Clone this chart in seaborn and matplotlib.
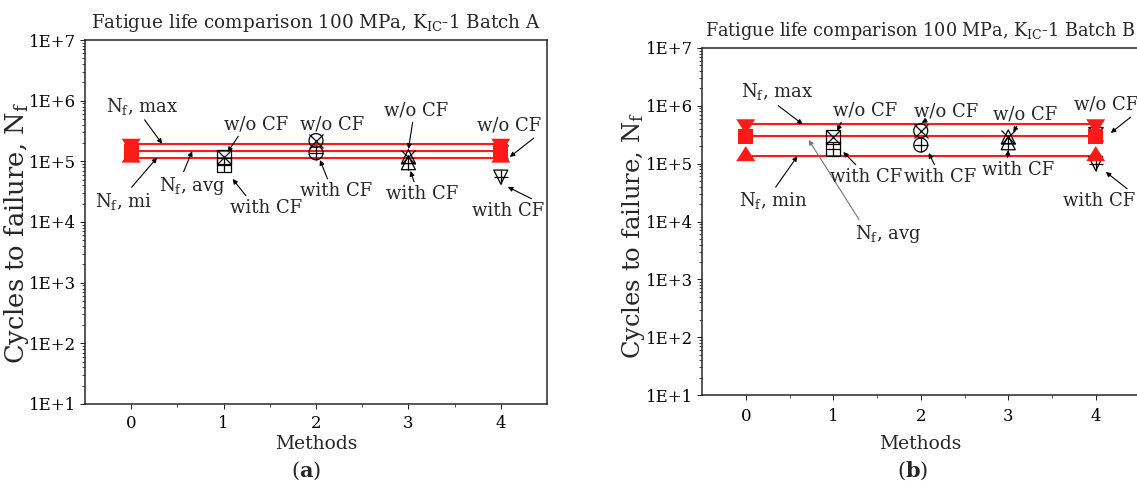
import numpy as np
import pandas as pd
import matplotlib
matplotlib.use("Agg")
import matplotlib.pyplot as plt
from matplotlib.markers import MarkerStyle
from matplotlib.transforms import offset_copy
from matplotlib.ticker import FixedLocator, NullFormatter, LogLocator
import seaborn as sns

# ---- data -------------------------------------------------------------
methods = [0, 1, 2, 3, 4]
method_labels = ["0", "1", "2", "3", "4"]
line_methods = [0, 4]            # N_f bands run between method 0 and method 4
cf_methods = [1, 2, 3, 4]        # methods evaluated with / without CF

ytick_values = [1e1, 1e2, 1e3, 1e4, 1e5, 1e6, 1e7]
ytick_labels = ["1E+1", "1E+2", "1E+3", "1E+4", "1E+5", "1E+6", "1E+7"]

# Batch A
nf_max_a = 1.95e5
nf_avg_a = 1.47e5
nf_min_a = 1.15e5
wo_cf_a = [1.2e5, 2.2e5, 1.2e5, 1.4e5]
with_cf_a = [8.8e4, 1.38e5, 9.5e4, 5.5e4]

# Batch B
nf_max_b = 4.8e5
nf_avg_b = 3.0e5
nf_min_b = 1.35e5
wo_cf_b = [2.9e5, 3.7e5, 2.9e5, 3.2e5]
with_cf_b = [1.8e5, 2.1e5, 2.3e5, 1.0e5]

# ---- style ------------------------------------------------------------
sns.set_style("ticks")
plt.rcParams["font.family"] = ["DejaVu Serif"]
plt.rcParams["mathtext.fontset"] = "dejavuserif"
RED = "#ff1a1a"
PX = 72 / 100  # points per pixel at dpi 100

method_shapes = {1: "s", 2: "o", 3: "^", 4: "v"}
# triangles centred on their centroid (flat side one third from the centre)
TRI_UP = MarkerStyle([(0, 10), (-9.5, -5), (9.5, -5)])
TRI_DOWN = MarkerStyle([(0, -10), (-9.5, 5), (9.5, 5)])

FS_NOTE = 13.0
FS_TICK = 11.9
FS_XLABEL = 13.5

fig = plt.figure(figsize=(11.37, 4.88), dpi=100)
W, H = 1137, 488
ax_a = fig.add_axes([85 / W, 1 - 404 / H, 462 / W, 364 / H])
ax_b = fig.add_axes([702 / W, 1 - 395 / H, 437.5 / W, 347 / H])


def note(ax, text, m, v, tip, txt, relpos=(0.5, 0.5), color="black", arrow=True):
    """Label a point; tip/txt are pixel offsets (x right, y down) from (m, v)."""
    trans = offset_copy(ax.transData, fig=ax.figure, x=tip[0], y=-tip[1], units="dots")
    props = None
    if arrow:
        props = dict(arrowstyle="-|>", color=color, lw=0.8, mutation_scale=7,
                     shrinkA=0, shrinkB=0, relpos=relpos)
    ax.annotate(text, xy=(m, v), xycoords=trans,
                xytext=(txt[0] - tip[0], -(txt[1] - tip[1])), textcoords="offset pixels",
                ha="center", va="center", fontsize=FS_NOTE, arrowprops=props,
                annotation_clip=False, zorder=6)


def draw_panel(ax, nf_max, nf_avg, nf_min, wo_cf, with_cf, title, fs_title, fs_ylabel):
    ax.set_yscale("log")

    bands = pd.DataFrame({
        "method": line_methods * 3,
        "nf": [nf_max] * 2 + [nf_avg] * 2 + [nf_min] * 2,
        "stat": ["max"] * 2 + ["avg"] * 2 + ["min"] * 2,
    })
    sns.lineplot(data=bands, x="method", y="nf", units="stat", estimator=None,
                 color=RED, lw=1.5, ax=ax, legend=False, zorder=2)

    pts = pd.DataFrame({
        "method": cf_methods * 2,
        "nf": list(wo_cf) + list(with_cf),
        "cf": ["w/o CF"] * 4 + ["with CF"] * 4,
    })
    ms = (14 * PX) ** 2
    sns.scatterplot(data=pts, x="method", y="nf", style="method", markers=method_shapes,
                    s=ms, color="black", facecolor="none", edgecolor="black",
                    linewidth=0.9, ax=ax, legend=False, zorder=3)
    sns.scatterplot(data=pts[pts["cf"] == "w/o CF"], x="method", y="nf", marker="x",
                    s=ms, color="black", linewidth=0.9, ax=ax, legend=False, zorder=3)
    sns.scatterplot(data=pts[pts["cf"] == "with CF"], x="method", y="nf", marker="+",
                    s=ms, color="black", linewidth=0.9, ax=ax, legend=False, zorder=3)

    for stat, mk, size in [("max", TRI_DOWN, 20), ("min", TRI_UP, 20), ("avg", "s", 15)]:
        sns.scatterplot(data=bands[bands["stat"] == stat], x="method", y="nf", marker=mk,
                        s=(size * PX) ** 2, color=RED, edgecolor="none", linewidth=0,
                        ax=ax, legend=False, zorder=4)

    ax.set_xlim(-0.5, 4.5)
    ax.set_ylim(1e1, 1e7)
    ax.set_xticks(methods)
    ax.set_xticklabels(method_labels)
    ax.xaxis.set_minor_locator(FixedLocator([0.5, 1.5, 2.5, 3.5]))
    ax.set_yticks(ytick_values)
    ax.set_yticklabels(ytick_labels)
    ax.yaxis.set_minor_locator(LogLocator(base=10, subs=np.arange(2, 10)))
    ax.yaxis.set_minor_formatter(NullFormatter())
    ax.tick_params(which="major", direction="out", length=5 * PX, width=1.0 * PX,
                   labelsize=FS_TICK, colors="#222222", labelcolor="black")
    ax.tick_params(which="minor", direction="out", length=3 * PX, width=0.8 * PX,
                   colors="#222222")
    ax.tick_params(axis="y", pad=3)
    for sp in ax.spines.values():
        sp.set_visible(True)
        sp.set_linewidth(1.5 * PX)
        sp.set_color("#222222")

    ax.set_xlabel("Methods", fontsize=FS_XLABEL)
    ax.set_ylabel("Cycles to failure, N$_{\\rm f}$", fontsize=fs_ylabel)
    ax.set_title(title, fontsize=fs_title, pad=8.5)


# ---- panel (a) --------------------------------------------------------
draw_panel(ax_a, nf_max_a, nf_avg_a, nf_min_a, wo_cf_a, with_cf_a,
           "Fatigue life comparison 100 MPa, K$_{\\rm IC}$-1 Batch A", 13.2, 18.5)
ax_a.tick_params(axis="x", pad=4.5)
ax_a.xaxis.set_label_coords(0.5, -0.085)
ax_a.yaxis.set_label_coords(-0.1169, 0.47)

note(ax_a, "N$_{\\rm f}$, max", 0.335, nf_max_a, (0, 0), (-20, -37.7), relpos=(0.5, 0))
note(ax_a, "N$_{\\rm f}$, mi", 0.28, nf_min_a, (0, 0), (-34, 43.4), relpos=(0.6, 1))
note(ax_a, "N$_{\\rm f}$, avg", 0.66, nf_avg_a, (0, 0), (0, 34.8), relpos=(0.35, 1))
note(ax_a, "w/o CF", 1, wo_cf_a[0], (4, -4.5), (33, -32.5), relpos=(0.25, 0))
note(ax_a, "with CF", 1, with_cf_a[0], (9, 14.3), (43, 43.3), relpos=(0.25, 1))
note(ax_a, "w/o CF", 2, wo_cf_a[1], (0, 0), (16, -16.5), arrow=False)
note(ax_a, "with CF", 2, with_cf_a[1], (4, 7.2), (20, 38.2), relpos=(0.4, 1))
note(ax_a, "w/o CF", 3, wo_cf_a[2], (0, -7.5), (8, -46.5), relpos=(0.45, 0))
note(ax_a, "with CF", 3, with_cf_a[2], (2, 8.3), (14, 31.3), relpos=(0.4, 1))
note(ax_a, "w/o CF", 4, wo_cf_a[3], (9, 4.5), (8, -26.5), relpos=(0.95, 0))
note(ax_a, "with CF", 4, with_cf_a[3], (7, 9.9), (7, 33.9), relpos=(0.97, 0.9))

# ---- panel (b) --------------------------------------------------------
draw_panel(ax_b, nf_max_b, nf_avg_b, nf_min_b, wo_cf_b, with_cf_b,
           "Fatigue life comparison 100 MPa, K$_{\\rm IC}$-1 Batch B", 12.7, 17.5)
ax_b.tick_params(axis="x", pad=5.5)
ax_b.xaxis.set_label_coords(0.5, -0.115)
ax_b.yaxis.set_label_coords(-0.1257, 0.46)

note(ax_b, "N$_{\\rm f}$, max", 0.65, nf_max_b, (0, 0), (-25, -32.3), relpos=(0.45, 0))
note(ax_b, "N$_{\\rm f}$, min", 0.59, nf_min_b, (0, 0), (-24, 44.8), relpos=(0.5, 1))
note(ax_b, "N$_{\\rm f}$, avg", 0.72, nf_avg_b, (0, 3.9), (79, 97.9), relpos=(0.1, 1),
     color="#777777")
note(ax_b, "w/o CF", 1, wo_cf_b[0], (4, -5.9), (32, -26.9), relpos=(0.15, 0))
note(ax_b, "with CF", 1, with_cf_b[0], (10, 3.1), (33, 28.1), relpos=(0.4, 1))
note(ax_b, "w/o CF", 2, wo_cf_b[1], (1, -7.8), (25, -19.8), relpos=(0.2, 0))
note(ax_b, "with CF", 2, with_cf_b[1], (8, 8), (19, 32), relpos=(0.45, 1))
note(ax_b, "w/o CF", 3, wo_cf_b[2], (5, -4.9), (17, -22.9), relpos=(0.4, 0))
note(ax_b, "with CF", 3, with_cf_b[2], (0, 7.2), (10, 27.2), relpos=(0.35, 1))
note(ax_b, "w/o CF", 4, wo_cf_b[3], (15, -1.5), (10, -29.5), relpos=(0.95, 0))
note(ax_b, "with CF", 4, with_cf_b[3], (10, 8.3), (3, 37.3), relpos=(0.95, 1))

# ---- panel captions ---------------------------------------------------
fig.text(306 / W, 1 - 471 / H, "($\\mathbf{a}$)", ha="center", va="center", fontsize=15)
fig.text(913 / W, 1 - 471 / H, "($\\mathbf{b}$)", ha="center", va="center", fontsize=15)

fig.savefig("out.png", dpi=100)
